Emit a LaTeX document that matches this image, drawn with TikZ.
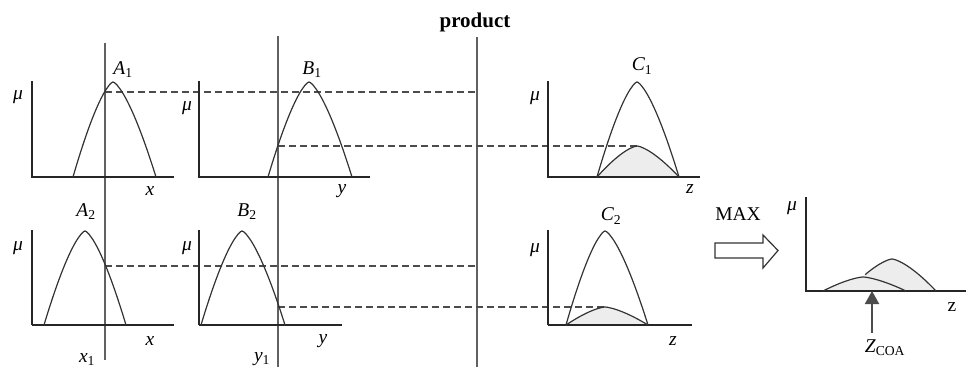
\documentclass[tikz,border=0pt]{standalone}
\usepackage{fontspec}
\setmainfont{Liberation Serif}
\usetikzlibrary{arrows.meta}
\tikzset{
  axisline/.style={line width=1.4pt, draw=black!85},
  thickaxis/.style={line width=2.3pt, draw=black!85},
  curveline/.style={line width=1.2pt, draw=black!80},
  guideline/.style={line width=1.3pt, draw=black!62},
  dashline/.style={line width=1.1pt, draw=black!70, dash pattern=on 7pt off 4pt},
  humpfill/.style={fill=black!7},
  lbl/.style={font=\fontsize{19.5}{22}\selectfont\itshape, inner sep=0pt},
  uplbl/.style={font=\fontsize{19.5}{22}\selectfont, inner sep=0pt},
}
% hump: peak x, base y, height, left half width, right half width
\newcommand\humppath[5]{plot[domain=-1:-0.001, samples=40] ({#1-abs(\x)*#4},{#2-#3*(1-abs(\x)^1.45)}) -- plot[domain=0.001:1, samples=40] ({#1+\x*#5},{#2-#3*(1-\x^1.45)})}
\begin{document}
\begin{tikzpicture}[x=1pt,y=-1pt]
\useasboundingbox (0,0) rectangle (966,367);
\fill[white] (0,0) rectangle (966,367);

% ---------- guide lines ----------
\coordinate (x1top) at (105,43);  \coordinate (x1bot) at (105,360);
\coordinate (y1top) at (278,36);  \coordinate (y1bot) at (278,367);
\coordinate (prtop) at (477,37);  \coordinate (prbot) at (477,367);
\draw[guideline] (x1top) -- (x1bot);
\draw[guideline] (y1top) -- (y1bot);
\draw[guideline] (prtop) -- (prbot);
\node[font=\fontsize{21}{24}\selectfont\bfseries, inner sep=0pt] (prod) at (475,22) {product};

% ---------- fills of clipped consequents ----------
\fill[humpfill] \humppath{637}{177}{31}{40}{42} -- cycle;
\fill[humpfill] \humppath{605}{325}{18}{39}{43} -- cycle;
\fill[humpfill] \humppath{863}{291}{14}{40}{43} -- cycle;
\fill[humpfill] \humppath{892}{291}{32}{44}{44} -- cycle;

% ---------- dashed lines ----------
\coordinate (d1a) at (105,92);  \coordinate (d1b) at (477,92);
\coordinate (d2a) at (278,146); \coordinate (d2b) at (637,146);
\coordinate (d3a) at (105,266); \coordinate (d3b) at (477,266);
\coordinate (d4a) at (278,307); \coordinate (d4b) at (605,307);
\draw[dashline] (d1a) -- (d1b);
\draw[dashline] (d2a) -- (d2b);
\draw[dashline] (d3a) -- (d3b);
\draw[dashline] (d4a) -- (d4b);

% ---------- axes ----------
% row 1
\draw[axisline] (32,81) -- (32,177) -- (174,177);
\draw[axisline] (199,81) -- (199,177) -- (370,177);
\draw[axisline] (548,81) -- (548,177) -- (700,177);
% row 2
\draw[axisline] (32,230) -- (32,325);
\draw[thickaxis] (32,325) -- (174,325);
\draw[axisline] (199,230) -- (199,325);
\draw[thickaxis] (199,325) -- (342,325);
\draw[axisline] (548,230) -- (548,325);
\draw[thickaxis] (548,325) -- (692,325);
% aggregated output
\draw[axisline] (806,197) -- (806,291) -- (966,291);

% ---------- membership curves ----------
\draw[curveline] \humppath{113}{177}{95}{40}{43};
\draw[curveline] \humppath{309}{177}{95}{41}{43};
\draw[curveline] \humppath{637}{177}{95}{40}{42};
\draw[curveline] \humppath{637}{177}{31}{40}{42};
\draw[curveline] \humppath{85}{325}{94}{41}{41};
\draw[curveline] \humppath{242}{325}{94}{41}{43};
\draw[curveline] \humppath{605}{325}{94}{39}{43};
\draw[curveline] \humppath{605}{325}{18}{39}{43};
% aggregated
\draw[curveline] \humppath{863}{291}{14}{40}{43};
\draw[curveline] plot[domain=-0.61:-0.001, samples=30] ({892-abs(\x)*44},{291-32*(1-abs(\x)^1.45)}) -- plot[domain=0.001:1, samples=40] ({892+\x*44},{291-32*(1-\x^1.45)});

% ---------- labels ----------
\node[lbl] (A1) at (123,70) {A\textsubscript{\upshape 1}};
\node[lbl] (B1) at (312,70) {B\textsubscript{\upshape 1}};
\node[lbl] (C1) at (642,66) {C\textsubscript{\upshape 1}};
\node[lbl] (A2) at (86,212) {A\textsubscript{\upshape 2}};
\node[lbl] (B2) at (247,212) {B\textsubscript{\upshape 2}};
\node[lbl] (C2) at (611,216) {C\textsubscript{\upshape 2}};

\node[lbl] (m1) at (18,97) {μ};
\node[lbl] (m2) at (187,108) {μ};
\node[lbl] (m3) at (535,98) {μ};
\node[lbl] (m4) at (18,248) {μ};
\node[lbl] (m5) at (187,248) {μ};
\node[lbl] (m6) at (535,250) {μ};
\node[lbl] (m7) at (792,208) {μ};

\node[lbl] (xl1) at (150,191) {x};
\node[lbl] (yl1) at (342,191) {y};
\node[lbl] (zl1) at (690,189) {z};
\node[lbl] (xl2) at (150,341) {x};
\node[lbl] (yl2) at (323,341) {y};
\node[lbl] (zl2) at (673,341) {z};
\node[uplbl] (zl3) at (952,307) {z};

\node[lbl, anchor=south] (x1) at (87,366) {x\textsubscript{\upshape 1}};
\node[lbl, anchor=south] (y1) at (262,366) {y\textsubscript{\upshape 1}};

% ---------- MAX arrow ----------
\node[uplbl] (max) at (738,214) {MAX};
\draw[line width=1.2pt, draw=black!80, fill=white]
  (715,243) -- (763,243) -- (763,235) -- (778,250.5) -- (763,268) -- (763,258) -- (715,258) -- cycle;

% ---------- centroid arrow ----------
\node[lbl] (zcoa) at (885,348) {Z\textsubscript{\upshape COA}};
\coordinate (zc) at (872,291);
\draw[line width=2pt, draw=black!70, -{Triangle[length=13pt,width=14pt]}] (872,333) -- (zc);
\end{tikzpicture}
\end{document}
